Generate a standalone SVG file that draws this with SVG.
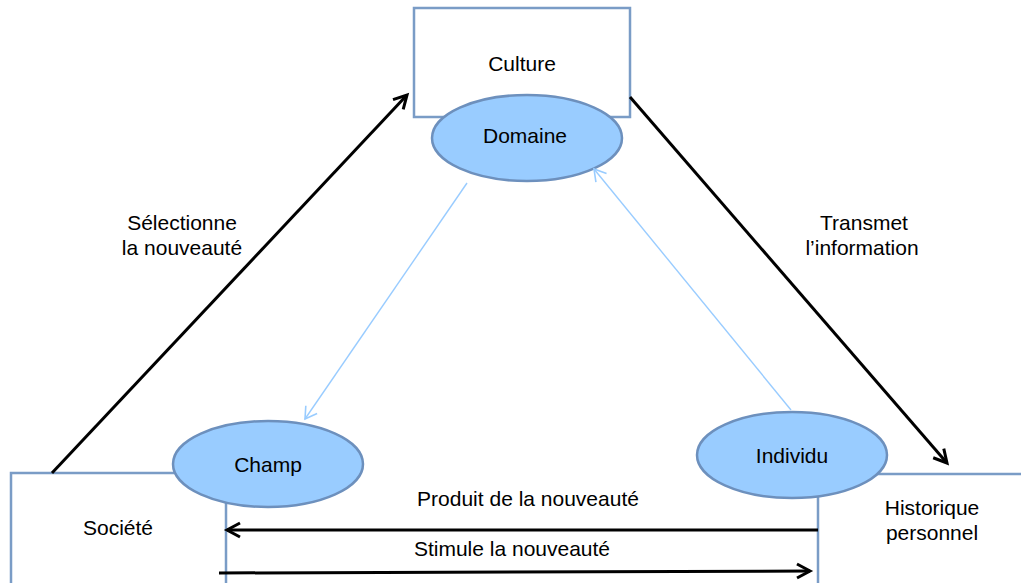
<svg xmlns="http://www.w3.org/2000/svg" width="1021" height="583" viewBox="0 0 1021 583">
<style>
.box{fill:#fff;stroke:#7a9cc6;stroke-width:2.5}
.ell{fill:#99ccff;stroke:#6d90bd;stroke-width:2.5}
.t{font-family:"Liberation Sans",Arial,sans-serif;font-size:21px;fill:#000;text-anchor:middle}
.blk{stroke:#000;stroke-width:3;fill:none}
.lb{stroke:#99ccff;stroke-width:1.4;fill:none}
</style>
<defs>
<marker id="ab" markerUnits="userSpaceOnUse" markerWidth="20" markerHeight="20" refX="15" refY="8" orient="auto" viewBox="0 0 20 16">
<path d="M2,1 L15,8 L2,15" fill="none" stroke="#000" stroke-width="3" stroke-linejoin="miter"/>
</marker>
<marker id="al" markerUnits="userSpaceOnUse" markerWidth="16" markerHeight="16" refX="12" refY="7" orient="auto" viewBox="0 0 14 14">
<path d="M2,1 L12,7 L2,13" fill="none" stroke="#99ccff" stroke-width="1.4"/>
</marker>
</defs>
<g id="culture">
<rect class="box" x="414" y="8" width="216" height="109"/>
<text class="t" x="522" y="71">Culture</text>
</g>
<g id="societe">
<rect class="box" x="11" y="473" width="215" height="120"/>
<text class="t" x="118" y="535">Société</text>
</g>
<g id="historique">
<rect class="box" x="818" y="474" width="220" height="120"/>
<text class="t" x="932" y="515">Historique</text>
<text class="t" x="932" y="540">personnel</text>
</g>
<g id="domaine">
<ellipse class="ell" cx="527" cy="138" rx="95" ry="43"/>
<text class="t" x="525" y="143">Domaine</text>
</g>
<g id="champ">
<ellipse class="ell" cx="268" cy="464" rx="95" ry="43"/>
<text class="t" x="268" y="472">Champ</text>
</g>
<g id="individu">
<ellipse class="ell" cx="792" cy="455" rx="95" ry="43"/>
<text class="t" x="792" y="463">Individu</text>
</g>
<g id="connectors">
<line class="blk" x1="52" y1="473" x2="407" y2="95" marker-end="url(#ab)"/>
<line class="blk" x1="630" y1="97" x2="947" y2="463" marker-end="url(#ab)"/>
<line class="blk" x1="818" y1="530" x2="227" y2="530" marker-end="url(#ab)"/>
<line class="blk" x1="219" y1="573" x2="810" y2="571" marker-end="url(#ab)"/>
<line class="lb" x1="467" y1="183" x2="305" y2="419" marker-end="url(#al)"/>
<line class="lb" x1="791" y1="410" x2="594" y2="169" marker-end="url(#al)"/>
<text class="t" x="182" y="230">Sélectionne</text>
<text class="t" x="182" y="255">la nouveauté</text>
<text class="t" x="864" y="230">Transmet</text>
<text class="t" x="862" y="255">l’information</text>
<text class="t" x="528" y="506">Produit de la nouveauté</text>
<text class="t" x="512" y="556">Stimule la nouveauté</text>
</g>
</svg>
